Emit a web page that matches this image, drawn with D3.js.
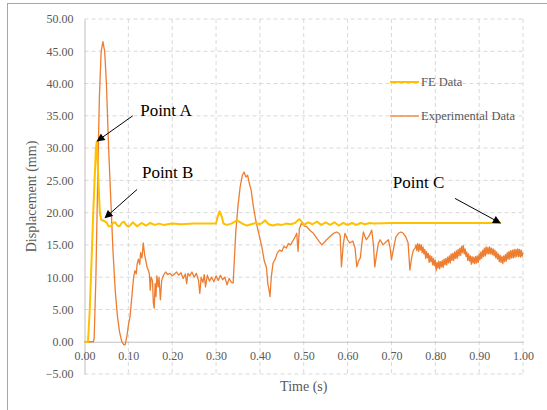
<!DOCTYPE html>
<html>
<head>
<meta charset="utf-8">
<script src="https://cdn.jsdelivr.net/npm/d3@7"></script>
<style>
  body { margin: 0; background: #fff; }
  svg text { font-family: "Liberation Serif", "Times New Roman", Times, "DejaVu Serif", serif !important; }
</style>
</head>
<body>
<div id="chart"></div>
<script>
// FE model result, [time s, displacement mm]
const feData = [
  [0,0],[0.008,0],[0.012,5],[0.02,20],[0.026,30],[0.028,31],[0.031,26],[0.035,20],
  [0.038,18.9],[0.045,18.7],[0.05,18.5],[0.055,17.9],[0.06,17.9],[0.065,18.4],[0.07,18.5],
  [0.075,18.0],[0.08,17.9],[0.085,18.4],[0.09,18.6],[0.095,18.1],[0.1,17.8],[0.105,18.1],
  [0.11,18.5],[0.115,18.2],[0.12,17.9],[0.13,18.4],[0.14,18.0],[0.15,18.4],[0.16,18.1],
  [0.17,18.3],[0.18,18.1],[0.2,18.3],[0.22,18.2],[0.25,18.3],[0.28,18.3],[0.3,18.3],
  [0.303,19.2],[0.308,20.2],[0.313,19.4],[0.317,18.3],[0.325,18.1],[0.335,18.3],[0.348,18.8],
  [0.36,18.3],[0.37,18.0],[0.38,18.2],[0.39,18.4],[0.4,18.2],[0.405,18.4],[0.412,18.8],
  [0.42,18.2],[0.43,18.0],[0.44,18.2],[0.45,18.1],[0.46,18.3],[0.47,18.2],[0.48,18.4],
  [0.49,19.0],[0.495,18.6],[0.5,18.1],[0.51,18.5],[0.52,18.2],[0.53,18.6],[0.54,18.1],
  [0.55,18.5],[0.56,18.1],[0.57,18.5],[0.58,18.0],[0.59,18.4],[0.6,18.1],[0.61,18.4],
  [0.62,18.1],[0.63,18.4],[0.64,18.2],[0.65,18.4],[0.66,18.3],[0.7,18.4],[0.8,18.4],[0.95,18.4]
];

// Measured result, [time s, displacement mm]
const expData = [
  [0,0],[0.02,0],[0.022,0.5],[0.026,10],[0.03,25],[0.034,38],[0.038,45],[0.042,46.5],
  [0.046,45],[0.05,40],[0.055,30],[0.06,22],[0.065,14],[0.07,8],[0.075,4],[0.08,1.5],
  [0.085,0],[0.09,-0.5],[0.093,-0.4],[0.097,1],[0.1,2.5],[0.104,4],[0.108,7],[0.112,10],
  [0.115,11],[0.118,10.5],[0.12,12],[0.123,12.8],[0.126,12],[0.128,13.8],[0.131,13],
  [0.134,15.3],[0.137,13.5],[0.14,12.5],[0.143,11.5],[0.146,11],[0.148,10.5],[0.15,8],
  [0.152,10],[0.155,9.5],[0.157,6],[0.159,5.2],[0.161,9],[0.163,7],[0.165,10.2],[0.168,8.5],
  [0.17,10],[0.173,6.5],[0.176,9.5],[0.18,10.3],[0.185,10.8],[0.19,10.4],[0.195,10.6],
  [0.2,10.2],[0.21,10.8],[0.215,10.3],[0.22,10.7],[0.225,9.8],[0.23,10.5],[0.233,9],
  [0.236,10.6],[0.24,10.2],[0.245,10.8],[0.25,10],[0.255,10.6],[0.26,9.5],[0.263,7.5],
  [0.266,10],[0.27,9.2],[0.273,10.4],[0.276,8.5],[0.28,10.3],[0.285,9.4],[0.29,10],
  [0.295,9.3],[0.3,10.2],[0.305,9.5],[0.31,10.3],[0.315,9.6],[0.32,10],[0.325,8.8],
  [0.33,9.8],[0.335,9.2],[0.339,9.1],[0.342,13],[0.345,17],[0.35,21],[0.355,24],
  [0.36,25.8],[0.364,26.3],[0.368,25.5],[0.372,25.8],[0.376,24.5],[0.38,23.5],[0.385,21],
  [0.39,19],[0.395,17.5],[0.4,16],[0.405,14.5],[0.41,12.5],[0.415,11.5],[0.418,9],
  [0.421,8],[0.423,7],[0.426,10],[0.43,12.2],[0.435,12.8],[0.44,13.8],[0.445,14.2],
  [0.45,14],[0.455,14.8],[0.46,14.5],[0.465,15.2],[0.47,15],[0.475,15.6],[0.48,16.2],
  [0.484,16.8],[0.487,14],[0.49,17.5],[0.495,18.4],[0.5,18],[0.507,17.8],[0.515,17.2],
  [0.522,16.8],[0.53,16],[0.541,15],[0.547,15.4],[0.552,15.8],[0.56,16.3],[0.568,16.8],
  [0.575,17],[0.58,16.8],[0.583,16.5],[0.586,11.6],[0.59,15],[0.594,16.8],[0.6,15.8],
  [0.605,15.3],[0.612,15.6],[0.617,14.5],[0.621,11.6],[0.625,12.5],[0.629,13],[0.633,15.5],
  [0.636,17],[0.64,16.2],[0.643,15.8],[0.65,16.5],[0.655,17.3],[0.659,15],[0.662,11.6],
  [0.666,13.5],[0.67,15.2],[0.674,15.8],[0.681,15],[0.687,15.4],[0.693,15.8],[0.697,14.5],
  [0.7,12.7],[0.705,14.5],[0.71,16.2],[0.716,16.8],[0.722,17],[0.727,16.8],[0.733,16.2],
  [0.738,15.3],[0.742,11.1],[0.746,13],[0.75,14.2],[0.754,14.5],
  [0.756,15.0],[0.758,14.1],[0.76,15.2],[0.762,14.0],[0.764,15.1],[0.766,14.2],[0.768,15.0],
  [0.77,13.8],[0.772,14.7],[0.774,13.6],[0.776,14.3],[0.778,12.9],[0.78,14.0],[0.782,13.0],
  [0.784,13.7],[0.786,12.3],[0.788,13.4],[0.79,12.4],[0.792,13.2],[0.794,11.9],[0.796,12.9],
  [0.798,11.8],[0.8,12.6],[0.802,11.0],[0.804,12.3],[0.806,11.4],[0.808,12.5],[0.81,11.3],
  [0.812,12.4],[0.814,11.6],[0.816,12.6],[0.818,11.5],[0.82,12.8],[0.822,11.9],[0.824,12.9],
  [0.826,11.9],[0.828,13.1],[0.83,12.2],[0.832,13.3],[0.834,12.2],[0.836,13.6],[0.838,12.6],
  [0.84,13.7],[0.842,12.6],[0.844,13.9],[0.846,12.9],[0.848,14.1],[0.85,12.9],[0.852,14.3],
  [0.854,13.3],[0.856,14.5],[0.858,13.4],[0.86,14.8],[0.862,13.8],[0.864,14.9],[0.866,13.6],
  [0.868,14.4],[0.87,13.2],[0.872,13.9],[0.874,12.6],[0.876,13.6],[0.878,12.5],[0.88,13.3],
  [0.882,12.0],[0.884,13.2],[0.886,12.2],[0.888,13.1],[0.89,12.1],[0.892,13.2],[0.894,12.2],
  [0.896,13.3],[0.898,12.3],[0.9,13.6],[0.902,12.7],[0.904,13.9],[0.906,12.9],[0.908,14.2],
  [0.91,13.2],[0.912,14.5],[0.914,13.3],[0.916,14.7],[0.918,13.6],[0.92,14.6],[0.922,13.6],
  [0.924,14.7],[0.926,13.6],[0.928,14.5],[0.93,13.5],[0.932,14.4],[0.934,13.3],[0.936,14.2],
  [0.938,13.0],[0.94,13.9],[0.942,12.8],[0.944,13.6],[0.946,12.4],[0.948,13.4],[0.95,12.3],
  [0.952,13.2],[0.954,12.1],[0.956,13.3],[0.958,12.4],[0.96,13.5],[0.962,12.5],[0.964,13.8],
  [0.966,12.8],[0.968,14.0],[0.97,12.8],[0.972,14.1],[0.974,13.0],[0.976,14.2],[0.978,13.0],
  [0.98,14.3],[0.982,13.1],[0.984,14.3],[0.986,13.2],[0.988,14.4],[0.99,13.2],[0.992,14.3],
  [0.994,13.1],[0.996,14.2],[0.998,13.2],[1.0,13.8]
];

const xTicks = d3.range(0, 11).map(i => i / 10);
const yTicks = d3.range(-5, 51, 5);

// callouts: label, label position in data units, arrow tail, arrow tip
const callouts = [
  { name: "Point A", label: [0.127, 35.0], from: [0.11, 35.0], to: [0.029, 31.1] },
  { name: "Point B", label: [0.131, 25.3], from: [0.12, 23.6], to: [0.047, 19.2] },
  { name: "Point C", label: [0.703, 23.8], from: [0.845, 22.2], to: [0.948, 18.4] }
];

const W = 547, H = 410;
const margin = { left: 84.5, right: 24, top: 19, bottom: 36 };

const svg = d3.select("#chart").append("svg")
  .attr("width", W)
  .attr("height", H);

svg.append("rect")
  .attr("x", 7.5).attr("y", 3.5)
  .attr("width", 560).attr("height", 440)
  .attr("fill", "#fff")
  .attr("stroke", "#a6a6a6");

const x = d3.scaleLinear().domain([0, 1]).range([margin.left, W - margin.right]);
const y = d3.scaleLinear().domain([-5, 50]).range([H - margin.bottom, margin.top]);

// gridlines
svg.append("g")
  .selectAll("line.h")
  .data(yTicks.filter(d => d !== 0))
  .enter().append("line")
  .attr("x1", x(0)).attr("x2", x(1))
  .attr("y1", d => y(d)).attr("y2", d => y(d))
  .attr("stroke", "#d9d9d9")
  .attr("stroke-dasharray", "4,3");
svg.append("g")
  .selectAll("line.v")
  .data(xTicks.filter(d => d !== 0))
  .enter().append("line")
  .attr("x1", d => x(d)).attr("x2", d => x(d))
  .attr("y1", y(50)).attr("y2", y(-5))
  .attr("stroke", "#d9d9d9")
  .attr("stroke-dasharray", "4,3");

// axes
const yAxis = svg.append("g")
  .attr("transform", "translate(" + x(0) + ",0)")
  .call(d3.axisLeft(y).tickValues(yTicks).tickSize(0).tickPadding(11).tickFormat(d3.format(".2f")));
const xAxis = svg.append("g")
  .attr("transform", "translate(0," + y(0) + ")")
  .call(d3.axisBottom(x).tickValues(xTicks).tickSize(0).tickPadding(10).tickFormat(d3.format(".2f")));
[xAxis, yAxis].forEach(a => {
  a.attr("font-family", null);
  a.select(".domain").attr("stroke", "#bfbfbf");
  a.selectAll("text")
    .attr("fill", "#595959")
    .style("font-size", "12px");
});

svg.append("text")
  .attr("transform", "translate(36," + ((y(50) + y(-5)) / 2) + ") rotate(-90)")
  .attr("text-anchor", "middle")
  .attr("fill", "#595959")
  .style("font-size", "14px")
  .text("Displacement (mm)");
svg.append("text")
  .attr("x", (x(0) + x(1)) / 2)
  .attr("y", 391)
  .attr("text-anchor", "middle")
  .attr("fill", "#595959")
  .style("font-size", "14px")
  .text("Time (s)");

// series
const line = d3.line().x(d => x(d[0])).y(d => y(d[1]));
svg.append("path")
  .datum(expData)
  .attr("d", line)
  .attr("fill", "none")
  .attr("stroke", "#ed7d31")
  .attr("stroke-width", 1.3)
  .attr("stroke-linejoin", "round");
svg.append("path")
  .datum(feData)
  .attr("d", line)
  .attr("fill", "none")
  .attr("stroke", "#ffc000")
  .attr("stroke-width", 2)
  .attr("stroke-linejoin", "round");

// legend
const legend = [
  { name: "FE Data", color: "#ffc000", width: 2, y: 82 },
  { name: "Experimental Data", color: "#ed7d31", width: 1.3, y: 116 }
];
const lg = svg.append("g").selectAll("g").data(legend).enter().append("g");
lg.append("line")
  .attr("x1", 390).attr("x2", 419)
  .attr("y1", d => d.y).attr("y2", d => d.y)
  .attr("stroke", d => d.color)
  .attr("stroke-width", d => d.width);
lg.append("text")
  .attr("x", 421)
  .attr("y", d => d.y + 4)
  .attr("fill", "#595959")
  .style("font-size", "12.5px")
  .text(d => d.name);

// callouts
svg.append("defs").append("marker")
  .attr("id", "arrow")
  .attr("viewBox", "0 0 10 10")
  .attr("refX", 9).attr("refY", 5)
  .attr("markerWidth", 9).attr("markerHeight", 8)
  .attr("orient", "auto")
  .append("path")
  .attr("d", "M0,0L10,5L0,10z")
  .attr("fill", "#000");

const co = svg.append("g").selectAll("g").data(callouts).enter().append("g");
co.append("line")
  .attr("x1", d => x(d.from[0])).attr("y1", d => y(d.from[1]))
  .attr("x2", d => x(d.to[0])).attr("y2", d => y(d.to[1]))
  .attr("stroke", "#000")
  .attr("stroke-width", 1)
  .attr("marker-end", "url(#arrow)");
co.append("text")
  .attr("x", d => x(d.label[0]))
  .attr("y", d => y(d.label[1]))
  .attr("fill", "#000")
  .style("font-size", "17px")
  .text(d => d.name);
</script>
</body>
</html>
